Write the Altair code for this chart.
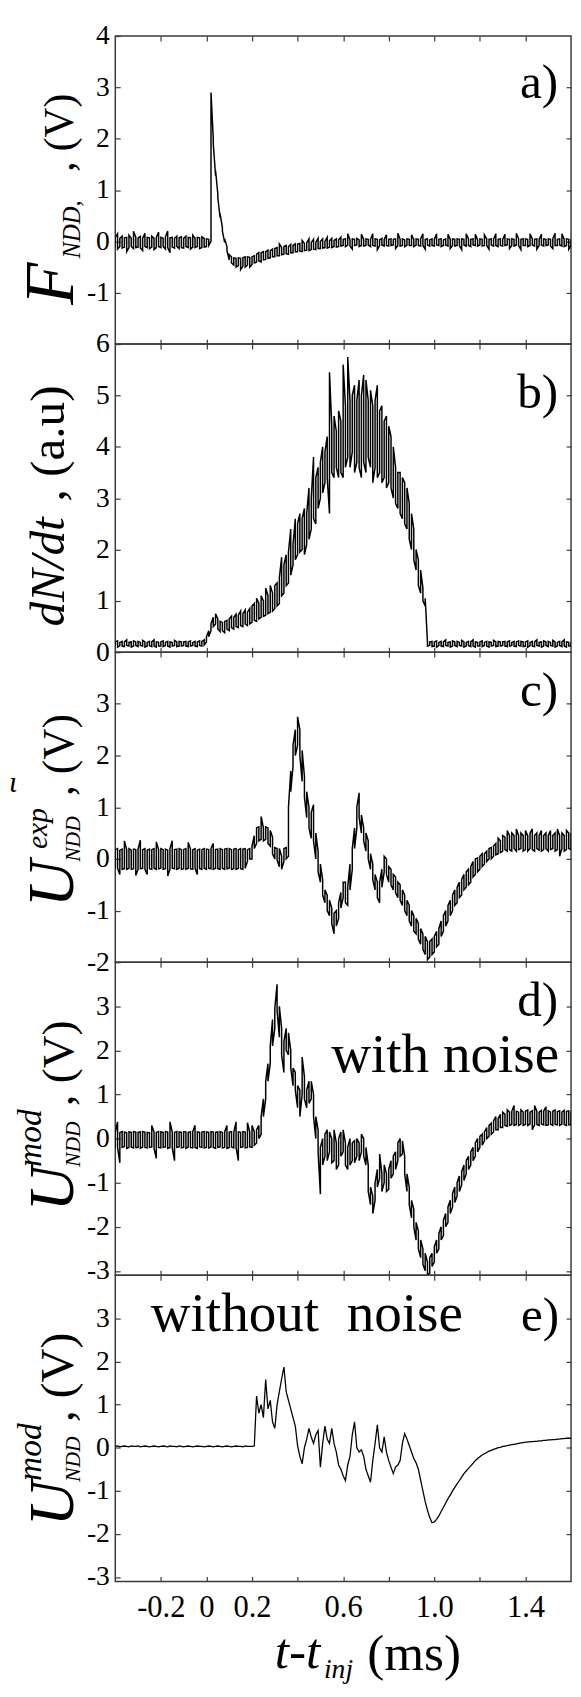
import altair as alt
import pandas as pd

# sampling times (ms), 0.01 ms grid from -0.4 to 1.6
T = [round(-0.4 + 0.01 * i, 2) for i in range(201)]

# ---------- panel a : F_NDD (V) : lower / upper envelope ----------
A_LO = [
    -0.12, -0.15, -0.1, -0.13, -0.11, -0.2, -0.12, -0.1, -0.14, -0.12,
    -0.11, -0.13, -0.18, -0.1, -0.12, -0.14, -0.11, -0.16, -0.12, -0.1,
    -0.12, -0.1, -0.15, -0.12, -0.22, -0.11, -0.13, -0.1, -0.14, -0.12,
    -0.13, -0.1, -0.12, -0.15, -0.11, -0.12, -0.1, -0.14, -0.12, -0.11,
    -0.1, -0.08, 0.0, 1.9, 1.28, 0.85, 0.46, 0.2, -0.02, -0.18,
    -0.36, -0.42, -0.46, -0.5, -0.47, -0.55, -0.48, -0.5, -0.46, -0.5,
    -0.45, -0.42, -0.4, -0.38, -0.4, -0.36, -0.35, -0.33, -0.32, -0.3,
    -0.3, -0.28, -0.28, -0.26, -0.25, -0.24, -0.25, -0.22, -0.22, -0.2,
    -0.2, -0.19, -0.2, -0.18, -0.17, -0.18, -0.16, -0.15, -0.16, -0.14,
    -0.14, -0.13, -0.12, -0.13, -0.11, -0.12, -0.1, -0.11, -0.1, -0.09,
    -0.08, -0.1, -0.07, -0.09, -0.15, -0.08, -0.07, -0.1, -0.08, -0.09,
    -0.08, -0.07, -0.1, -0.08, -0.09, -0.16, -0.08, -0.07, -0.09, -0.08,
    -0.09, -0.08, -0.07, -0.14, -0.08, -0.09, -0.08, -0.1, -0.07, -0.08,
    -0.08, -0.1, -0.07, -0.08, -0.09, -0.08, -0.15, -0.07, -0.09, -0.08,
    -0.09, -0.07, -0.08, -0.1, -0.08, -0.07, -0.09, -0.14, -0.08, -0.09,
    -0.08, -0.08, -0.16, -0.07, -0.09, -0.08, -0.1, -0.07, -0.08, -0.09,
    -0.07, -0.09, -0.08, -0.08, -0.15, -0.07, -0.09, -0.08, -0.1, -0.08,
    -0.09, -0.08, -0.07, -0.14, -0.08, -0.09, -0.07, -0.08, -0.16, -0.08,
    -0.08, -0.1, -0.08, -0.07, -0.09, -0.15, -0.08, -0.07, -0.09, -0.08,
    -0.07, -0.09, -0.14, -0.08, -0.08, -0.07, -0.09, -0.1, -0.08, -0.15,
    -0.08,
]
A_HI = [
    0.08, 0.15, 0.06, 0.1, 0.07, 0.08, 0.12, 0.06, 0.2, 0.08,
    0.07, 0.1, 0.06, 0.16, 0.08, 0.07, 0.1, 0.06, 0.08, 0.18,
    0.08, 0.06, 0.09, 0.2, 0.07, 0.08, 0.06, 0.1, 0.07, 0.09,
    0.06, 0.1, 0.08, 0.07, 0.12, 0.06, 0.08, 0.07, 0.09, 0.06,
    0.05, 0.04, 2.9, 2.0, 1.38, 0.92, 0.54, 0.27, 0.05, -0.1,
    -0.26, -0.3, -0.32, -0.33, -0.32, -0.33, -0.32, -0.3, -0.3, -0.31,
    -0.3, -0.28, -0.25, -0.22, -0.22, -0.2, -0.2, -0.17, -0.18, -0.15,
    -0.14, -0.12, -0.05, -0.12, -0.1, -0.08, -0.1, -0.06, -0.08, -0.05,
    -0.05, -0.04, 0.02, -0.04, -0.03, 0.05, -0.02, 0.04, -0.02, 0.06,
    0.0, 0.05, 0.0, 0.08, 0.01, 0.06, 0.02, 0.05, 0.03, 0.08,
    0.04, 0.05, 0.15, 0.03, 0.05, 0.04, 0.06, 0.03, 0.14, 0.04,
    0.05, 0.04, 0.04, 0.15, 0.05, 0.04, 0.03, 0.06, 0.04, 0.13,
    0.04, 0.05, 0.04, 0.05, 0.16, 0.04, 0.05, 0.03, 0.05, 0.04,
    0.13, 0.04, 0.05, 0.04, 0.05, 0.15, 0.04, 0.05, 0.03, 0.05,
    0.04, 0.15, 0.04, 0.05, 0.03, 0.05, 0.14, 0.04, 0.05, 0.04,
    0.05, 0.04, 0.05, 0.04, 0.15, 0.05, 0.04, 0.05, 0.14, 0.03,
    0.05, 0.04, 0.13, 0.05, 0.04, 0.05, 0.04, 0.15, 0.04, 0.05,
    0.04, 0.14, 0.05, 0.04, 0.05, 0.04, 0.16, 0.05, 0.04, 0.05,
    0.05, 0.04, 0.15, 0.05, 0.04, 0.05, 0.04, 0.14, 0.05, 0.04,
    0.05, 0.04, 0.05, 0.16, 0.04, 0.05, 0.15, 0.04, 0.05, 0.04,
    0.05,
]

# ---------- panel b : dN/dt (a.u) ----------
B_LO = [
    0.12, 0.1, 0.13, 0.12, 0.11, 0.13, 0.12, 0.1, 0.12, 0.13,
    0.11, 0.13, 0.12, 0.1, 0.12, 0.13, 0.11, 0.12, 0.1, 0.12,
    0.12, 0.11, 0.13, 0.12, 0.1, 0.12, 0.13, 0.11, 0.12, 0.12,
    0.13, 0.12, 0.11, 0.12, 0.13, 0.12, 0.11, 0.13, 0.12, 0.14,
    0.2, 0.3, 0.42, 0.5, 0.55, 0.45, 0.4, 0.42, 0.38, 0.45,
    0.42, 0.48, 0.45, 0.5, 0.48, 0.52, 0.5, 0.55, 0.52, 0.55,
    0.58, 0.62, 0.6, 0.65, 0.68, 0.7, 0.72, 0.75, 0.78, 0.8,
    0.85, 0.9, 0.95, 1.1, 1.15, 1.3, 1.35, 1.5, 1.7, 1.8,
    1.9, 1.95, 2.0, 1.9, 2.1, 2.2, 2.4, 2.6, 2.5, 2.8,
    3.0, 3.1, 3.3, 3.4, 2.7, 3.5, 3.4, 3.6, 3.4, 3.5,
    3.4, 3.6, 3.8, 3.6, 3.9, 3.5, 3.7, 3.6, 3.4, 3.7,
    3.5, 3.8, 3.6, 3.3, 3.6, 3.4, 3.5, 3.3, 3.4, 3.2,
    3.3, 3.2, 3.0, 2.9, 2.8, 2.7, 2.6, 2.5, 2.4, 2.2,
    2.0, 1.8, 1.6, 1.3, 1.15, 1.0, 0.9, 0.12, 0.13, 0.11,
    0.12, 0.1, 0.13, 0.12, 0.11, 0.13, 0.12, 0.1, 0.12, 0.13,
    0.11, 0.13, 0.12, 0.1, 0.12, 0.13, 0.11, 0.12, 0.1, 0.12,
    0.12, 0.11, 0.13, 0.12, 0.1, 0.12, 0.13, 0.11, 0.12, 0.12,
    0.13, 0.12, 0.11, 0.12, 0.13, 0.12, 0.11, 0.13, 0.12, 0.11,
    0.12, 0.1, 0.13, 0.12, 0.11, 0.13, 0.12, 0.1, 0.12, 0.13,
    0.11, 0.13, 0.12, 0.1, 0.12, 0.13, 0.11, 0.12, 0.1, 0.12,
    0.12,
]
B_HI = [
    0.2, 0.22, 0.19, 0.21, 0.2, 0.24, 0.19, 0.2, 0.22, 0.2,
    0.21, 0.19, 0.23, 0.2, 0.19, 0.21, 0.2, 0.24, 0.2, 0.19,
    0.2, 0.22, 0.19, 0.21, 0.2, 0.19, 0.23, 0.2, 0.21, 0.2,
    0.2, 0.21, 0.2, 0.22, 0.19, 0.21, 0.2, 0.22, 0.21, 0.24,
    0.3, 0.42, 0.55, 0.68, 0.75, 0.65, 0.6, 0.58, 0.6, 0.62,
    0.65, 0.7, 0.68, 0.74, 0.72, 0.8, 0.75, 0.82, 0.78, 0.85,
    0.9, 0.95, 1.05, 0.95, 1.1, 1.0, 1.25, 1.1, 1.3, 1.15,
    1.3, 1.35, 1.45, 1.85, 1.7, 1.9, 1.95, 2.4, 2.1, 2.6,
    2.5, 2.7, 2.6, 2.8, 2.7, 3.2, 3.0, 3.8, 3.4, 3.6,
    3.7, 4.0, 3.9, 4.2, 5.45, 4.4, 4.6, 4.3, 4.7, 4.5,
    5.6, 4.8, 5.75, 4.9, 5.0, 5.2, 4.9, 5.3, 5.0, 5.4,
    5.3, 4.9, 5.1, 4.8, 4.9, 5.2, 4.7, 4.8, 4.5, 4.6,
    4.4, 4.2, 4.0, 3.6, 3.5, 3.5, 3.4, 3.3, 3.2, 2.9,
    2.7, 2.4, 2.0, 1.8, 1.6, 1.25, 1.05, 0.2, 0.2, 0.21,
    0.2, 0.22, 0.19, 0.21, 0.2, 0.24, 0.19, 0.2, 0.22, 0.2,
    0.21, 0.19, 0.23, 0.2, 0.19, 0.21, 0.2, 0.24, 0.2, 0.19,
    0.2, 0.22, 0.19, 0.21, 0.2, 0.19, 0.23, 0.2, 0.21, 0.2,
    0.2, 0.21, 0.2, 0.22, 0.19, 0.21, 0.2, 0.22, 0.21, 0.2,
    0.2, 0.22, 0.19, 0.21, 0.2, 0.24, 0.19, 0.2, 0.22, 0.2,
    0.21, 0.19, 0.23, 0.2, 0.19, 0.21, 0.2, 0.24, 0.2, 0.19,
    0.2,
]

# ---------- panel c : U_NDD^exp (V) ----------
C_LO = [
    -0.2, -0.18, -0.3, -0.2, -0.19, -0.2, -0.18, -0.2, -0.19, -0.32,
    -0.2, -0.19, -0.18, -0.2, -0.3, -0.19, -0.2, -0.18, -0.2, -0.19,
    -0.18, -0.2, -0.19, -0.33, -0.2, -0.18, -0.19, -0.2, -0.18, -0.2,
    -0.19, -0.2, -0.18, -0.19, -0.2, -0.18, -0.3, -0.19, -0.2, -0.18,
    -0.2, -0.18, -0.19, -0.2, -0.18, -0.19, -0.2, -0.18, -0.2, -0.19,
    -0.18, -0.2, -0.19, -0.2, -0.18, -0.19, -0.2, -0.18, -0.05, 0.0,
    0.0, 0.2, 0.3, 0.35, 0.38, 0.35, 0.38, 0.3, 0.25, 0.1,
    0.0, -0.02, -0.15, -0.2, -0.05, 0.0, 0.05, 1.3, 1.8, 2.0,
    2.2, 2.0, 1.5, 1.2, 0.8, 0.6, 0.4, 0.35, 0.0, -0.25,
    -0.45, -0.7, -0.85, -1.0, -1.1, -1.25, -1.45, -1.3, -1.15, -0.95,
    -0.75, -0.85, -0.9, -0.6, -0.2, 0.2, 0.6, 0.8, 0.5, 0.35,
    0.15, 0.0, -0.2, -0.4, -0.6, -0.75, -0.85, -0.55, -0.25, -0.3,
    -0.45, -0.5, -0.6, -0.65, -0.75, -0.8, -0.9, -1.0, -1.1, -1.2,
    -1.3, -1.4, -1.45, -1.55, -1.65, -1.75, -1.85, -1.95, -1.9, -1.85,
    -1.8, -1.7, -1.65, -1.5, -1.4, -1.3, -1.2, -1.1, -1.0, -0.9,
    -0.85, -0.75, -0.7, -0.6, -0.55, -0.5, -0.45, -0.35, -0.3, -0.25,
    -0.2, -0.15, -0.1, -0.05, 0.0, 0.0, 0.05, 0.08, 0.1, 0.12,
    0.15, 0.18, 0.15, 0.18, 0.15, 0.2, 0.15, 0.18, 0.2, 0.15,
    0.18, 0.15, 0.2, 0.18, 0.15, 0.2, 0.17, 0.15, 0.18, 0.2,
    0.15, 0.18, 0.2, 0.15, 0.18, 0.05, 0.2, 0.15, 0.18, 0.2,
    0.18,
]
C_HI = [
    0.18, 0.2, 0.17, 0.19, 0.35, 0.18, 0.2, 0.17, 0.19, 0.18,
    0.19, 0.36, 0.18, 0.2, 0.17, 0.19, 0.18, 0.2, 0.33, 0.18,
    0.2, 0.18, 0.19, 0.17, 0.2, 0.35, 0.18, 0.19, 0.2, 0.18,
    0.18, 0.2, 0.32, 0.19, 0.18, 0.2, 0.17, 0.19, 0.18, 0.2,
    0.19, 0.18, 0.2, 0.3, 0.18, 0.19, 0.2, 0.18, 0.19, 0.2,
    0.2, 0.18, 0.19, 0.2, 0.18, 0.2, 0.19, 0.2, 0.18, 0.2,
    0.25, 0.45, 0.6, 0.62, 0.82, 0.6, 0.62, 0.6, 0.55, 0.42,
    0.22, 0.2, 0.2, 0.05, 0.2, 0.22, 1.0, 1.7, 2.2, 2.5,
    2.75, 2.5, 2.1, 1.6, 1.3, 1.0, 0.9, 1.05, 0.5, 0.15,
    -0.1, -0.4, -0.6, -0.7, -0.8, -0.95, -1.05, -1.0, -0.85, -0.65,
    -0.45, -0.45, -0.55, -0.1, 0.2, 0.6, 1.0, 1.28, 0.85, 0.6,
    0.5, 0.35, 0.1, -0.1, -0.3, -0.45, -0.45, -0.2, 0.05, 0.0,
    -0.15, -0.2, -0.3, -0.35, -0.45, -0.5, -0.6, -0.7, -0.8, -0.9,
    -1.0, -1.1, -1.15, -1.25, -1.35, -1.45, -1.5, -1.6, -1.6, -1.55,
    -1.5, -1.4, -1.35, -1.2, -1.1, -1.0, -0.9, -0.8, -0.7, -0.6,
    -0.55, -0.45, -0.4, -0.3, -0.25, -0.2, -0.15, -0.05, 0.0, 0.02,
    0.05, 0.1, 0.1, 0.15, 0.2, 0.22, 0.25, 0.3, 0.4, 0.35,
    0.45, 0.42, 0.55, 0.45, 0.5, 0.45, 0.58, 0.45, 0.5, 0.45,
    0.55, 0.45, 0.5, 0.58, 0.45, 0.5, 0.45, 0.55, 0.45, 0.5,
    0.45, 0.55, 0.45, 0.5, 0.58, 0.45, 0.5, 0.45, 0.55, 0.5,
    0.5,
]

# ---------- panel d : U_NDD^mod (V), with noise ----------
D_LO = [
    -0.22, -0.2, -0.55, -0.2, -0.18, -0.22, -0.2, -0.19, -0.21, -0.2,
    -0.2, -0.22, -0.19, -0.2, -0.21, -0.2, -0.19, -0.22, -0.45, -0.2,
    -0.21, -0.2, -0.19, -0.22, -0.2, -0.21, -0.5, -0.2, -0.19, -0.21,
    -0.2, -0.22, -0.19, -0.2, -0.21, -0.2, -0.22, -0.19, -0.2, -0.21,
    -0.2, -0.21, -0.19, -0.2, -0.22, -0.2, -0.19, -0.21, -0.2, -0.22,
    -0.2, -0.19, -0.21, -0.2, -0.5, -0.2, -0.19, -0.21, -0.2, -0.19,
    -0.2, -0.15, -0.1, 0.0, 0.1, 0.5, 0.9, 1.3, 1.7, 2.1,
    2.5, 2.9, 2.3, 1.9, 1.5, 2.0, 1.9, 1.6, 1.2, 1.1,
    0.7, 0.5, 1.0, 0.9, 0.7, 0.8, 0.9, 0.5, 0.0, -0.3,
    -1.26, -0.6, -0.4, -0.5, -0.3, -0.55, -0.5, -0.7, -0.6, -0.4,
    -0.3, -0.6, -0.7, -0.6, -0.5, -0.55, -0.4, -0.5, -0.3, -0.4,
    -0.6, -1.2, -1.5, -1.7, -1.4, -1.1, -0.9, -1.2, -1.0, -1.2,
    -1.15, -0.9, -0.8, -0.7, -0.5, -0.4, -0.35, -0.8, -1.2, -1.5,
    -1.8, -2.0, -2.3, -2.5, -2.7, -2.85, -3.0, -3.1, -3.05, -2.9,
    -2.8, -2.6, -2.5, -2.3, -2.2, -2.0, -1.9, -1.7, -1.55, -1.45,
    -1.3, -1.2, -1.05, -0.95, -0.8, -0.7, -0.6, -0.5, -0.4, -0.3,
    -0.2, -0.15, -0.05, 0.0, 0.05, 0.1, 0.15, 0.2, 0.2, 0.25,
    0.25, 0.3, 0.28, 0.3, 0.32, 0.3, 0.32, 0.3, 0.33, 0.3,
    0.32, 0.3, 0.33, 0.2, 0.31, 0.32, 0.3, 0.33, 0.31, 0.3,
    0.31, 0.33, 0.3, 0.32, 0.31, 0.3, 0.33, 0.32, 0.3, 0.31,
    0.32,
]
D_HI = [
    0.15, 0.38, 0.14, 0.16, 0.15, 0.13, 0.15, 0.14, 0.16, 0.15,
    0.14, 0.15, 0.16, 0.15, 0.14, 0.13, 0.3, 0.15, 0.14, 0.16,
    0.15, 0.14, 0.16, 0.15, 0.38, 0.15, 0.14, 0.16, 0.15, 0.14,
    0.16, 0.15, 0.14, 0.15, 0.16, 0.3, 0.15, 0.14, 0.15, 0.16,
    0.15, 0.14, 0.16, 0.15, 0.14, 0.15, 0.16, 0.14, 0.15, 0.3,
    0.15, 0.16, 0.14, 0.38, 0.15, 0.14, 0.16, 0.15, 0.36, 0.15,
    0.3, 0.15, 0.2, 0.3, 0.5, 0.9, 1.3, 1.7, 2.1, 2.7,
    2.95, 3.5, 3.0, 2.5, 2.2, 2.5, 2.4, 2.0, 1.6, 1.5,
    1.2, 1.1, 1.85, 1.4, 1.1, 1.3, 1.3, 1.0, 0.5, 0.2,
    -0.2, 0.0, 0.1, 0.2, 0.15, 0.0, 0.2, -0.1, 0.0, 0.15,
    0.2, -0.1, -0.2, 0.0, -0.1, -0.05, 0.0, -0.1, 0.1, 0.0,
    -0.2, -0.6, -1.1, -1.3, -1.0, -0.7, -0.35, -0.8, -0.6, -0.8,
    -0.7, -0.5, -0.4, -0.3, -0.1, 0.0, -0.05, -0.4, -0.8, -1.1,
    -1.4, -1.6, -1.9, -2.1, -2.3, -2.5, -2.6, -2.8, -2.7, -2.6,
    -2.45, -2.3, -2.15, -2.0, -1.85, -1.7, -1.55, -1.4, -1.25, -1.1,
    -1.0, -0.85, -0.75, -0.6, -0.5, -0.4, -0.3, -0.2, -0.1, 0.0,
    0.05, 0.1, 0.15, 0.25, 0.3, 0.35, 0.4, 0.5, 0.45, 0.55,
    0.6, 0.55, 0.65, 0.6, 0.62, 0.75, 0.62, 0.6, 0.65, 0.6,
    0.62, 0.65, 0.6, 0.63, 0.75, 0.62, 0.6, 0.64, 0.62, 0.72,
    0.63, 0.6, 0.62, 0.65, 0.61, 0.63, 0.6, 0.64, 0.62, 0.63,
    0.62,
]

# ---------- panel e : U_NDD^mod (V), without noise ----------
E_Y = [
    0.03, 0.04, 0.02, 0.03, 0.04, 0.03, 0.02, 0.04, 0.03, 0.03,
    0.04, 0.02, 0.03, 0.04, 0.03, 0.02, 0.03, 0.04, 0.03, 0.02,
    0.03, 0.04, 0.03, 0.02, 0.04, 0.03, 0.03, 0.02, 0.04, 0.03,
    0.02, 0.03, 0.04, 0.03, 0.02, 0.03, 0.04, 0.03, 0.03, 0.02,
    0.03, 0.04, 0.03, 0.02, 0.03, 0.04, 0.03, 0.02, 0.03, 0.04,
    0.03, 0.02, 0.03, 0.04, 0.03, 0.03, 0.02, 0.04, 0.03, 0.03,
    0.03, 0.04, 1.2, 0.8, 1.0, 0.7, 1.58, 0.9, 1.1, 0.6,
    0.45, 1.0, 1.3, 1.6, 1.87, 1.3, 1.1, 0.9, 0.7, 0.5,
    0.05, -0.2, -0.37, 0.0, 0.2, 0.45, 0.25, 0.1, 0.3, 0.4,
    -0.45, 0.1, 0.5, 0.2, 0.1, 0.45, 0.1, -0.1, -0.4, -0.5,
    -0.65, -0.76, -0.4, -0.2, 0.3, 0.6, 0.0, -0.1, -0.05, -0.2,
    -0.5, -0.65, -0.8, -0.3, 0.1, 0.53, 0.0, -0.1, 0.25, -0.1,
    -0.3, -0.45, -0.6, -0.45, -0.4, -0.3, 0.1, 0.33, 0.2, 0.05,
    -0.1, -0.25, -0.35, -0.5, -0.75, -1.0, -1.25, -1.45, -1.62, -1.74,
    -1.72, -1.66, -1.58, -1.48, -1.38, -1.28, -1.18, -1.1, -1.0, -0.92,
    -0.84, -0.76, -0.68, -0.6, -0.54, -0.48, -0.42, -0.36, -0.3, -0.25,
    -0.21, -0.17, -0.14, -0.11, -0.08, -0.06, -0.04, -0.02, 0.0, 0.01,
    0.03, 0.04, 0.05, 0.06, 0.07, 0.08, 0.09, 0.1, 0.11, 0.12,
    0.13, 0.13, 0.14, 0.14, 0.15, 0.15, 0.16, 0.16, 0.17, 0.17,
    0.18, 0.18, 0.19, 0.19, 0.2, 0.2, 0.21, 0.21, 0.22, 0.22,
    0.22,
]

for arr in (A_LO, A_HI, B_LO, B_HI, C_LO, C_HI, D_LO, D_HI, E_Y):
    assert len(arr) == len(T), len(arr)

X_TICKS = [-0.2, 0, 0.2, 0.4, 0.6, 0.8, 1.0, 1.2, 1.4]
FONT = "Liberation Serif"
INK = "#3a3a3a"
W = 463


def envelope(lo, hi):
    rows = []
    for i, (t, l, h) in enumerate(zip(T, lo, hi)):
        first, second = (l, h) if i % 2 == 0 else (h, l)
        rows.append({"t": t, "v": first, "o": 2 * i})
        rows.append({"t": t, "v": second, "o": 2 * i + 1})
    return pd.DataFrame(rows)


def single(vals):
    return pd.DataFrame({"t": T, "v": vals, "o": list(range(len(T)))})


def txt(s, x, y, size, italic=False, angle=None, align="left"):
    kw = dict(font=FONT, fontSize=size, align=align, baseline="alphabetic", color="black")
    if italic:
        kw["fontStyle"] = "italic"
    if angle is not None:
        kw["angle"] = angle
    return alt.Chart(pd.DataFrame({"s": [s]})).mark_text(**kw).encode(
        text="s:N", x=alt.value(x), y=alt.value(y)
    )


def panel(df, dom, left_vals, right_vals, height, extra, bottom_labels=False, sw=1.5):
    xs = alt.Scale(domain=[-0.4, 1.6], nice=False, zero=False)
    ys = alt.Scale(domain=dom, nice=False, zero=False)
    xb = dict(orient="bottom", values=X_TICKS, tickSize=5, offset=-5, domain=False,
              grid=False, title=None, labelOverlap=False)
    if bottom_labels:
        xb.update(labels=True, labelFont=FONT, labelFontSize=31, labelPadding=12,
                  labelColor="black",
                  labelExpr="indexof([0.4, 0.8, 1.2], datum.value) >= 0 ? '' : "
                            "(datum.value == 0 ? '0' : (datum.value < 0 ? '-' : '') + "
                            "format(abs(datum.value), '.1f'))")
    else:
        xb.update(labels=False)
    yl = alt.Axis(orient="left", values=left_vals, tickSize=5, offset=-5, domain=False,
                  grid=False, title=None, labelFont=FONT, labelFontSize=28,
                  labelPadding=6, labelColor="black", labelOverlap=False,
                  labelExpr="datum.value < 0 ? '-' + abs(datum.value) : '' + datum.value")
    main = alt.Chart(df).mark_line(color="black", strokeWidth=sw, clip=True).encode(
        x=alt.X("t:Q", scale=xs, axis=alt.Axis(**xb)),
        y=alt.Y("v:Q", scale=ys, axis=yl),
        order="o:Q",
    )
    ghost = alt.Chart(df).mark_line(strokeOpacity=0, clip=True).encode(
        x=alt.X("t:Q", scale=xs, axis=alt.Axis(orient="top", values=X_TICKS, labels=False,
                                               tickSize=5, offset=-5, domain=False,
                                               grid=False, title=None)),
        y=alt.Y("v:Q", scale=ys, axis=alt.Axis(orient="right", values=right_vals,
                                               labels=False, tickSize=5, offset=-5,
                                               domain=False, grid=False, title=None)),
        order="o:Q",
    )
    return alt.layer(main, ghost, *extra).resolve_axis(
        x="independent", y="independent"
    ).properties(width=W, height=height)


pa = panel(
    envelope(A_LO, A_HI), [-2, 4], [-1, 0, 1, 2, 3, 4], [-1, 0, 1, 2, 3], 313,
    [
        txt("F", -43, 273, 70, italic=True, angle=270),
        txt("NDD,", -36, 226, 25, italic=True, angle=270),
        txt(", (V)", -43, 138, 42, angle=270),
        txt("a)", 450, 63, 50, align="right"),
    ],
)
pb = panel(
    envelope(B_LO, B_HI), [0, 6], [0, 1, 2, 3, 4, 5, 6], [1, 2, 3, 4, 5], 313,
    [
        txt("dN/dt", -52, 287, 50, italic=True, angle=270),
        txt(", (a.u)", -52, 160, 50, angle=270),
        txt("b)", 450, 65, 50, align="right"),
    ],
)
pc = panel(
    envelope(C_LO, C_HI), [-2, 4], [-2, -1, 0, 1, 2, 3], [-1, 0, 1, 2, 3], 315,
    [
        txt("U", -43, 259, 66, italic=True, angle=270),
        txt("NDD", -36, 213, 22, italic=True, angle=270),
        txt("exp", -69, 200, 30, italic=True, angle=270),
        txt(", (V)", -43, 146, 44, angle=270),
        txt("c)", 450, 55, 50, align="right"),
        txt("\u03b9", -108, 142, 30, italic=True),
    ],
)
pd_ = panel(
    envelope(D_LO, D_HI), [-3.1, 4], [-3, -2, -1, 0, 1, 2, 3], [-3, -2, -1, 0, 1, 2, 3], 318,
    [
        txt("U", -43, 253, 64, italic=True, angle=270),
        txt("NDD", -36, 208, 22, italic=True, angle=270),
        txt("mod", -75, 208, 34, italic=True, angle=270),
        txt(", (V)", -43, 146, 46, angle=270),
        txt("d)", 450, 55, 50, align="right"),
        txt("with noise", 451, 111, 56, align="right"),
    ],
)
pe = panel(
    single(E_Y), [-3.1, 4], [-3, -2, -1, 0, 1, 2, 3], [-2, -1, 0, 1, 2, 3], 311,
    [
        txt("U", -43, 255, 64, italic=True, angle=270),
        txt("NDD", -36, 210, 22, italic=True, angle=270),
        txt("mod", -75, 209, 34, italic=True, angle=270),
        txt(", (V)", -43, 149, 48, angle=270),
        txt("e)", 451, 57, 50, align="right"),
        txt("without\u00a0\u00a0noise", 36, 57, 56),
        txt("t-t", 162, 399, 52, italic=True),
        txt("inj", 212, 409, 28, italic=True),
        txt("(ms)", 256, 401, 52),
    ],
    bottom_labels=True, sw=1.3,
)

chart = alt.vconcat(pa, pb, pc, pd_, pe, spacing=0, bounds="flush").configure_view(
    stroke=INK, strokeWidth=1.5
).configure_axis(
    tickColor=INK, tickWidth=1.2
).properties(
    padding={"left": 0, "top": 0, "right": 0, "bottom": 0}
)

chart.save("out.html", embed_options={"renderer": "svg", "actions": False})
